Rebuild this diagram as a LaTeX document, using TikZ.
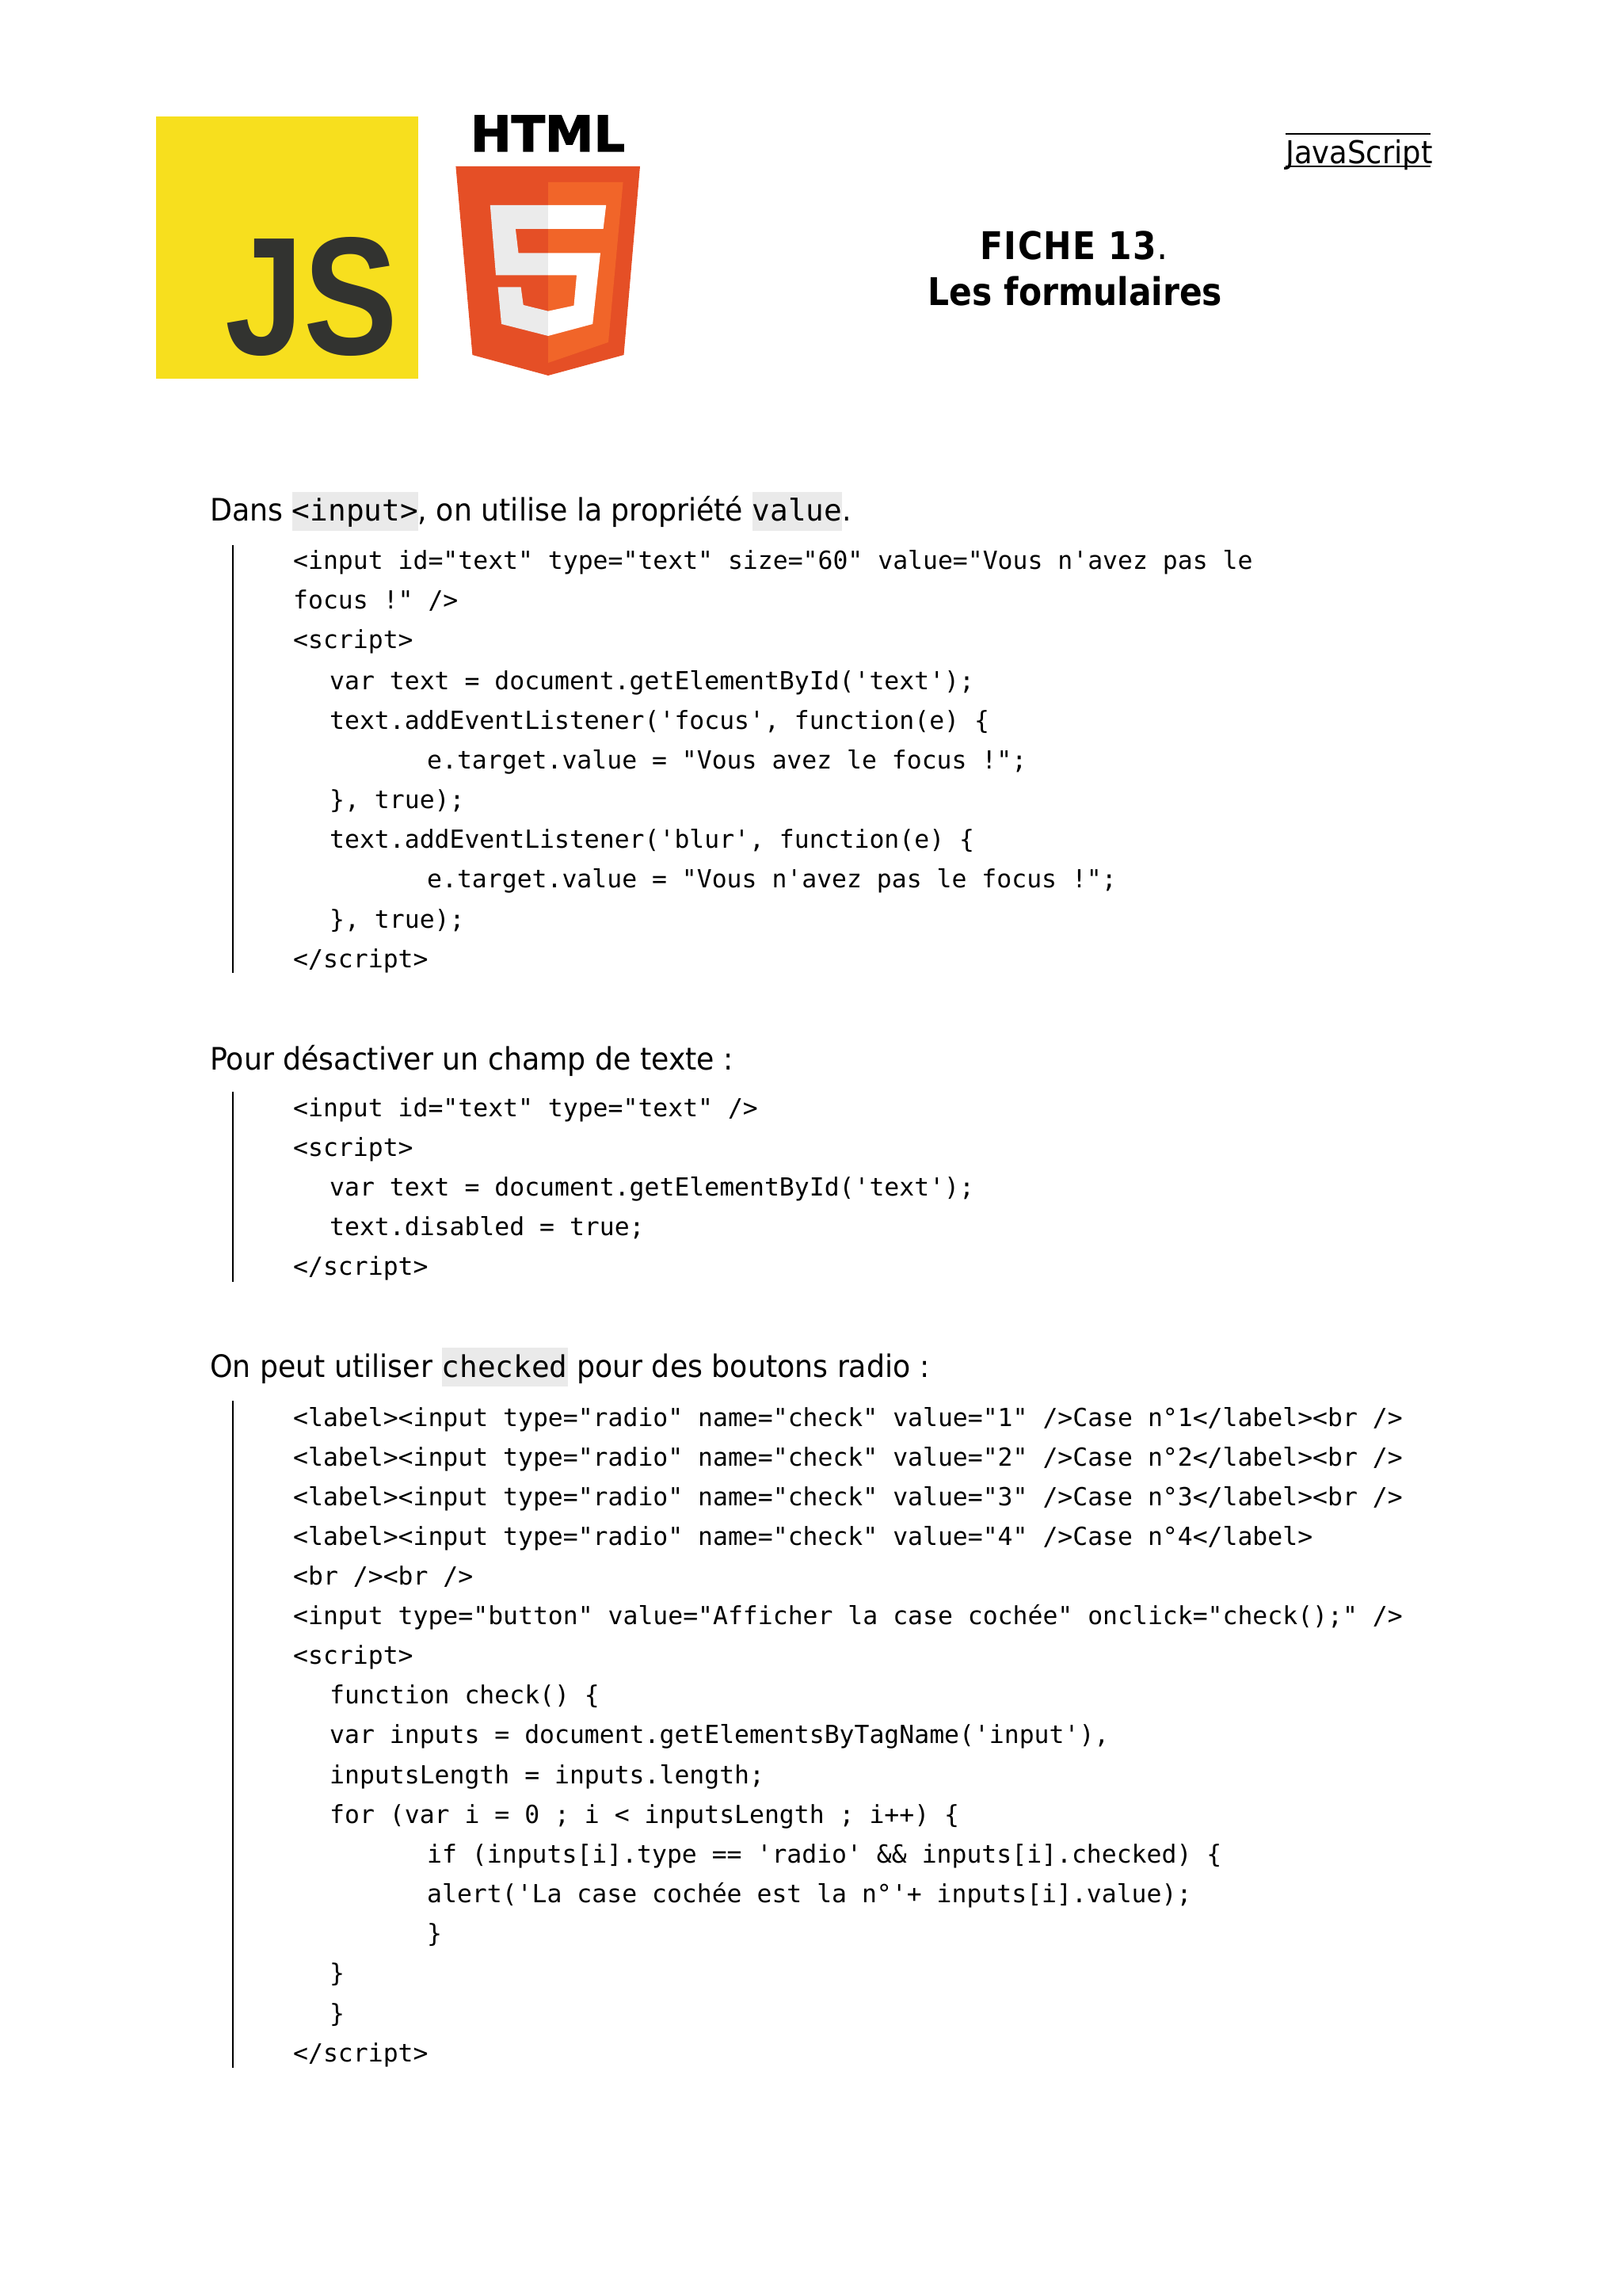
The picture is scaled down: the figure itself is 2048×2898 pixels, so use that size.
\documentclass[tikz,border=0pt]{standalone}
\usepackage{fontspec}
\setmainfont{DejaVu Sans}[FakeStretch=0.93,BoldFeatures={FakeStretch=0.88}]
\newfontfamily\codefont{DejaVu Sans Mono}
\newfontfamily\jsfont{Liberation Sans}[BoldFeatures={FakeStretch=0.84}]
\newfontfamily\htmlfont{DejaVu Sans}[BoldFeatures={FakeBold=2}]
\definecolor{jsyellow}{HTML}{F7DF1E}
\definecolor{jsdark}{HTML}{323330}
\definecolor{shieldout}{HTML}{E54F26}
\definecolor{shieldin}{HTML}{F16529}
\definecolor{fivegray}{HTML}{EBEBEB}
\definecolor{codegray}{HTML}{EAEAEA}
\newcommand{\hlcode}[1]{{\fboxsep=0pt\colorbox{codegray}{\rule[-3.3pt]{0pt}{13.8pt}\fontsize{10.73pt}{13pt}\codefont #1}}}
\tikzset{
  codeline/.style={anchor=base west,inner sep=0pt,font=\fontsize{8.94pt}{11pt}\codefont},
  heading/.style={anchor=base west,inner sep=0pt,font=\fontsize{11.1pt}{13pt}\selectfont},
  fichetitle/.style={anchor=base,inner sep=0pt,font=\fontsize{13.7pt}{16pt}\selectfont},
  quotebar/.style={line width=0.77pt,black}
}
\begin{document}
\begin{tikzpicture}[x=0.01cm,y=-0.01cm]
    \useasboundingbox (0,0) rectangle (2048,2898);
    \fill[jsyellow] (197,147) rectangle (528,478);
    \node[anchor=base east,inner sep=0pt,text=jsdark,font=\fontsize{60.3pt}{70pt}\jsfont\bfseries] (jsmark) at (503,448) {JS};
    \node[anchor=base,inner sep=0pt,font=\fontsize{17.6pt}{20pt}\htmlfont\bfseries] (htmlmark) at (691.5,191) {HTML};
    \fill[shieldout] (575.4,210)--(808,210)--(787.5,448)--(692,474)--(596.4,448)--cycle;
    \fill[shieldin] (692,230)--(786.6,230)--(768,432)--(692,458)--cycle;
    \fill[fivegray] (618.8,259)--(692,259)--(692,289)--(650.9,289)--(654.5,319.3)--(692,319.3)--(692,347.3)--(626,347.3)--cycle;
    \fill[fivegray] (628.6,362.3)--(657.6,362.3)--(660.7,385)--(692,392.7)--(692,424)--(633,409)--cycle;
    \fill[white] (692,259)--(765.2,259)--(761.6,289)--(692,289)--cycle;
    \fill[white] (692,319.3)--(758,319.3)--(748.2,409)--(692,424)--(692,392.7)--(724.5,385.7)--(728,347.3)--(692,347.3)--cycle;

    \node[anchor=base west,inner sep=0pt,font=\fontsize{11.3pt}{14pt}\selectfont] (subject) at (1622.5,207) {JavaScript};
    \draw[line width=0.55pt] (1622.5,169)--(1806,169);
    \draw[line width=0.55pt] (1622.5,210)--(1806,210);
    \node[fichetitle] (fiche) at (1356,328) {\addfontfeature{LetterSpace=3}\textbf{FICHE 13}.};
    \node[fichetitle] (ficheb) at (1357.5,386) {\textbf{Les formulaires}};

    \node[heading] (heada) at (264.5,658) {Dans \hlcode{<input>}, on utilise la propriété \hlcode{value}.};
    \draw[quotebar] (294,688)--(294,1228);
    \node[codeline] (a1) at (369.5,719) {<input id="text" type="text" size="60" value="Vous n'avez pas le};
    \node[codeline] (a2) at (369.5,769) {focus !" />};
    \node[codeline] (a3) at (369.5,819) {<script>};
    \node[codeline] (a4) at (415.5,870) {var text = document.getElementById('text');};
    \node[codeline] (a5) at (415.5,920) {text.addEventListener('focus', function(e) \{};
    \node[codeline] (a6) at (538.5,970) {e.target.value = "Vous avez le focus !";};
    \node[codeline] (a7) at (415.5,1020) {\}, true);};
    \node[codeline] (a8) at (415.5,1070) {text.addEventListener('blur', function(e) \{};
    \node[codeline] (a9) at (538.5,1120) {e.target.value = "Vous n'avez pas le focus !";};
    \node[codeline] (a10) at (415.5,1171) {\}, true);};
    \node[codeline] (a11) at (369.5,1221) {</script>};

    \node[heading] (headb) at (264.5,1350) {Pour désactiver un champ de texte :};
    \draw[quotebar] (294,1378)--(294,1618);
    \node[codeline] (b1) at (369.5,1409) {<input id="text" type="text" />};
    \node[codeline] (b2) at (369.5,1459) {<script>};
    \node[codeline] (b3) at (415.5,1509) {var text = document.getElementById('text');};
    \node[codeline] (b4) at (415.5,1559) {text.disabled = true;};
    \node[codeline] (b5) at (369.5,1609) {</script>};

    \node[heading] (headc) at (264.5,1738) {On peut utiliser \hlcode{checked} pour des boutons radio :};
    \draw[quotebar] (294,1768)--(294,2610);
    \node[codeline] (c1) at (369.5,1800) {<label><input type="radio" name="check" value="1" />Case n°1</label><br />};
    \node[codeline] (c2) at (369.5,1850) {<label><input type="radio" name="check" value="2" />Case n°2</label><br />};
    \node[codeline] (c3) at (369.5,1900) {<label><input type="radio" name="check" value="3" />Case n°3</label><br />};
    \node[codeline] (c4) at (369.5,1950) {<label><input type="radio" name="check" value="4" />Case n°4</label>};
    \node[codeline] (c5) at (369.5,2000) {<br /><br />};
    \node[codeline] (c6) at (369.5,2050) {<input type="button" value="Afficher la case cochée" onclick="check();" />};
    \node[codeline] (c7) at (369.5,2100) {<script>};
    \node[codeline] (c8) at (415.5,2150) {function check() \{};
    \node[codeline] (c9) at (415.5,2200) {var inputs = document.getElementsByTagName('input'),};
    \node[codeline] (c10) at (415.5,2251) {inputsLength = inputs.length;};
    \node[codeline] (c11) at (415.5,2301) {for (var i = 0 ; i < inputsLength ; i++) \{};
    \node[codeline] (c12) at (538.5,2351) {if (inputs[i].type == 'radio' \&\& inputs[i].checked) \{};
    \node[codeline] (c13) at (538.5,2401) {alert('La case cochée est la n°'+ inputs[i].value);};
    \node[codeline] (c14) at (538.5,2451) {\}};
    \node[codeline] (c15) at (415.5,2501) {\}};
    \node[codeline] (c16) at (415.5,2552) {\}};
    \node[codeline] (c17) at (369.5,2602) {</script>};
\end{tikzpicture}
\end{document}
